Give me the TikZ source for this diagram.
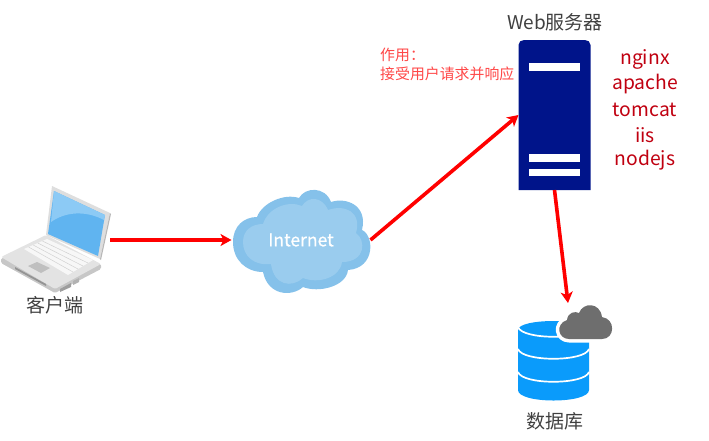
\documentclass[tikz,border=0pt]{standalone}
\usepackage{fontspec}
\setmainfont{Noto Sans CJK SC}
\newfontfamily\inetfont[FakeBold=0.6]{Noto Sans CJK SC}
\usetikzlibrary{arrows.meta,calc}
\definecolor{srv}{HTML}{00148A}
\definecolor{cldo}{HTML}{85C1EA}
\definecolor{cldi}{HTML}{9ACCEE}
\definecolor{dbb}{HTML}{0A9BFB}
\definecolor{dbg}{HTML}{6E6E6E}
\definecolor{lab}{HTML}{404040}
\definecolor{redt}{HTML}{C00010}
\definecolor{redl}{HTML}{FF4848}
\definecolor{scr}{HTML}{60B4F0}
\definecolor{scrl}{HTML}{8CCAF5}
\tikzset{
  link/.style={draw=red,line width=3.6pt,-{Stealth[length=11pt,width=12pt,inset=3pt]}},
  anchorbox/.style={inner sep=0pt,outer sep=0pt,minimum width=#1},
  caption/.style={text=lab,font=\fontsize{19}{21}\selectfont,inner sep=0pt},
  softw/.style={text=redt,font=\fontsize{19.3}{21}\selectfont,inner sep=0pt},
  note/.style={text=redl,font=\fontsize{14.9}{16}\selectfont,inner sep=0pt,anchor=west},
  bar/.style={fill=white,draw=none},
}
\begin{document}
\begin{tikzpicture}[x=1pt,y=-1pt]
\useasboundingbox (0,0) rectangle (709,440);
% laptop
\fill[black!22,rounded corners=1.5pt] (1,258) -- (1,263) -- (55,293) -- (101,269) -- (101,264) -- cycle;
\fill[black!11,rounded corners=1.5pt] (1,257) -- (46,235) -- (101,264) -- (55,289) -- cycle;
\fill[black!42] (15,267) -- (46,284) -- (46,286) -- (15,269) -- cycle;
\fill[black!38] (60,289) -- (71,283) -- (71,287) -- (60,292) -- cycle;
\fill[black!30] (73,281) -- (79,278) -- (79,282) -- (73,285) -- cycle;
\fill[black!3] (24,249) -- (47,239) -- (93,260) -- (68,275) -- cycle;
\foreach \t in {0.2,0.4,0.6,0.8} {
  \draw[black!18,line width=.5pt] ($(24,249)!\t!(47,239)$) -- ($(68,275)!\t!(93,260)$);
}
\fill[black!25] (28,266) -- (37,262) -- (50,268) -- (41,273) -- cycle;
\fill[black!13] (52,186) -- (110,213) -- (100,259) -- (46,235) -- cycle;
\fill[black!28] (100,259) -- (110,213) -- (111,214) -- (101,260) -- cycle;
\fill[scr] (54,191) -- (105,215) -- (98,256) -- (48,234) -- cycle;
\fill[scrl] (54,191) -- (105,215) -- (104,220) .. controls (85,210) and (65,212) .. (51,222) -- cycle;
\node[anchorbox=110pt,minimum height=106pt] (laptop) at (55,240) {};
\node[caption] (clientlabel) at (55,305) {客户端};
% internet cloud
\fill[cldo] (233,242) .. controls (233,226) and (244,217) .. (257,217)
  .. controls (262,203) and (284,193) .. (299,198)
  .. controls (305,187) and (325,186) .. (331,202)
  .. controls (346,197) and (368,205) .. (362,230)
  .. controls (374,235) and (376,268) .. (348,270)
  .. controls (346,287) and (318,293) .. (303,287)
  .. controls (292,297) and (268,296) .. (263,272)
  .. controls (246,272) and (233,260) .. (233,242) -- cycle;
\fill[cldi] (243,242) .. controls (243,230) and (252,224) .. (263,224)
  .. controls (268,208) and (288,200) .. (302,206)
  .. controls (308,196) and (322,196) .. (328,210)
  .. controls (345,204) and (362,212) .. (356,233)
  .. controls (366,240) and (366,262) .. (342,262)
  .. controls (340,278) and (318,284) .. (303,278)
  .. controls (292,288) and (274,286) .. (271,264)
  .. controls (254,266) and (243,256) .. (243,242) -- cycle;
\node[anchorbox=139pt,minimum height=104pt,text=white,font=\inetfont\fontsize{17.5}{19}\selectfont] (cloud) at (301,240) {Internet};
% server
\fill[srv] (518.5,190) -- (518.5,45) .. controls (518.5,42) and (521,40) .. (524,40) -- (585,40) .. controls (588,40) and (590.5,42) .. (590.5,45) -- (590.5,190) -- cycle;
\node[anchorbox=72pt,minimum height=150pt] (server) at (554.5,115) {};
\fill[bar] (529.3,62.7) rectangle (580,70.7);
\fill[bar] (529.3,154.3) rectangle (580,161.7);
\fill[bar] (529.3,169) rectangle (580,176);
\node[caption] (serverlabel) at (555,22) {Web服务器};
\node[note] (note1) at (380,55) {作用：};
\node[note] (note2) at (380,74) {接受用户请求并响应};
\node[softw] (s1) at (645,59) {nginx};
\node[softw] (s2) at (645,84) {apache};
\node[softw] (s3) at (645,110) {tomcat};
\node[softw] (s4) at (645,135) {iis};
\node[softw] (s5) at (645,160) {nodejs};
% database
\fill[dbb] (518,330) .. controls (518,318) and (589,318) .. (589,330) -- (589,390)
  .. controls (589,404) and (518,404) .. (518,390) -- cycle;
\draw[white,line width=1.7pt] (518,327) .. controls (522,340) and (585,340) .. (589,327);
\draw[white,line width=1.7pt] (518,349) .. controls (522,362) and (585,362) .. (589,349);
\draw[white,line width=1.7pt] (518,372) .. controls (522,385) and (585,385) .. (589,372);
\def\dbcloud{(569,339) .. controls (558,339) and (555,324) .. (567,320)
  .. controls (568,312) and (575,311) .. (579,313)
  .. controls (583,302) and (600,302) .. (602,317)
  .. controls (616,319) and (615,339) .. (602,339) -- cycle}
\fill[white,draw=white,line width=7pt,line join=round] \dbcloud;
\fill[dbg] \dbcloud;
\node[anchorbox=95pt,minimum height=96pt] (db) at (565,352) {};
\coordinate (dbin) at (568,303);
\node[caption] (dblabel) at (555,421) {数据库};
% connectors
\draw[link] (laptop.east) -- (cloud.west);
\draw[link] (cloud.east) -- (server.west);
\draw[link] (server.south) -- (dbin);
\end{tikzpicture}
\end{document}
